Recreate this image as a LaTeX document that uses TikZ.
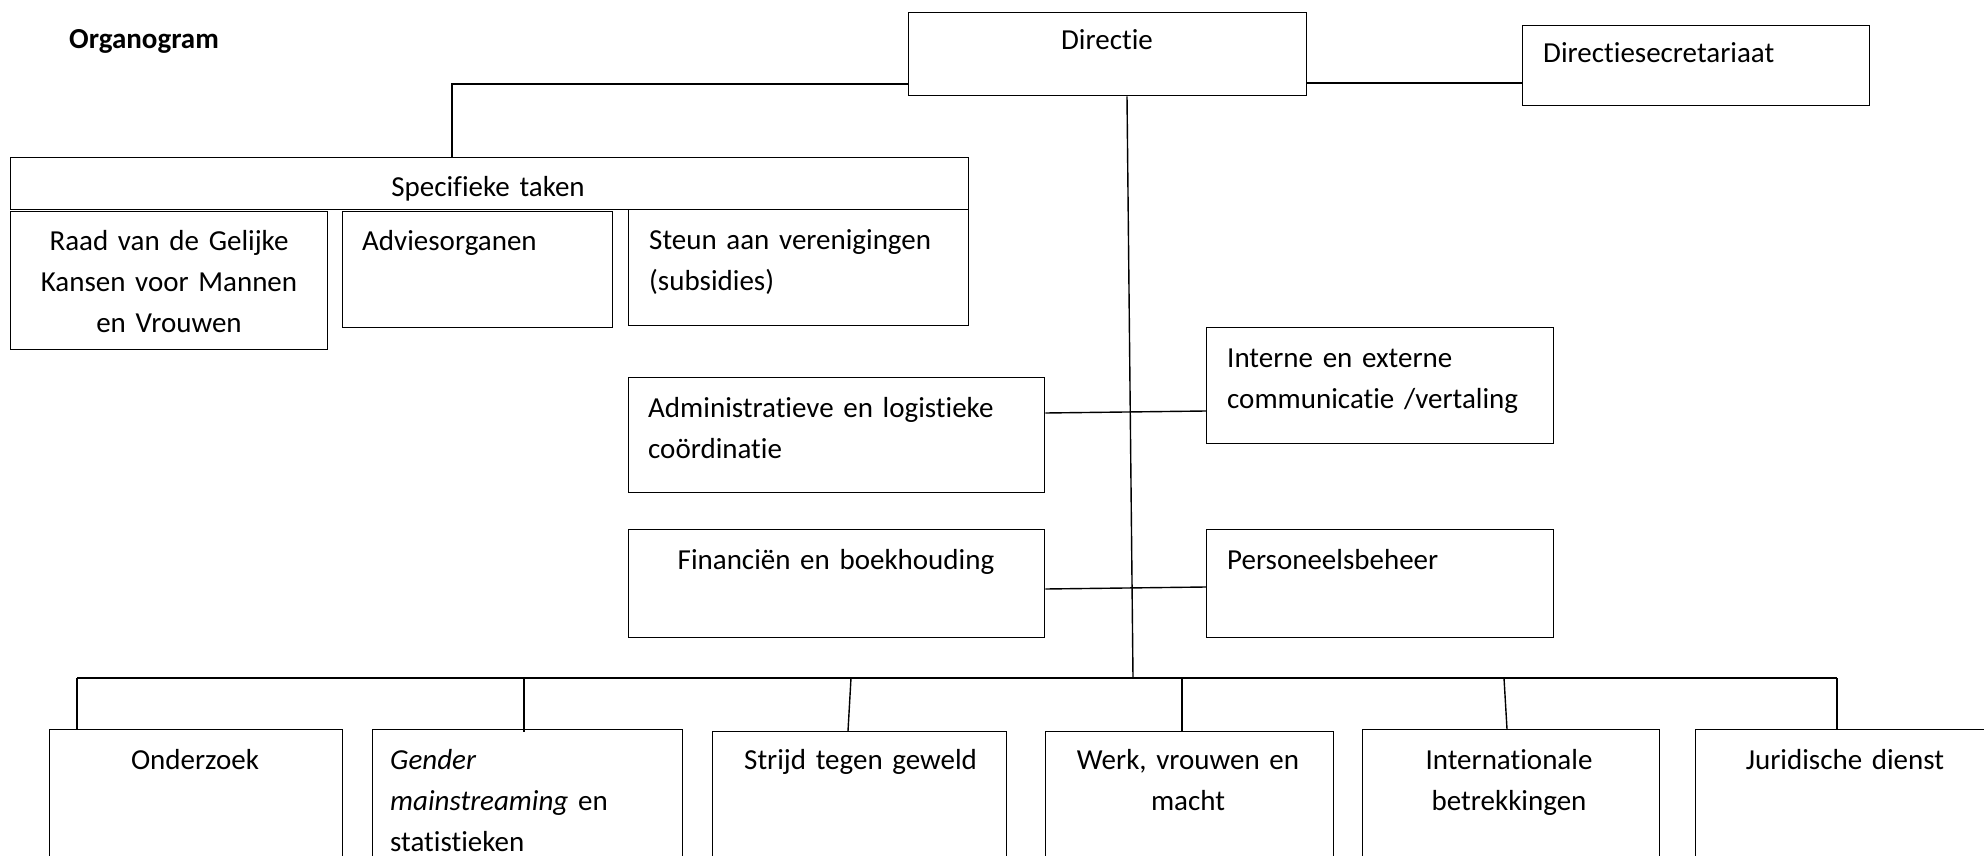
\documentclass[tikz,border=0pt]{standalone}
\usepackage{fontspec}
\setmainfont[Ligatures={NoCommon}]{Carlito}
\usetikzlibrary{calc}
\tikzset{
  box/.style={draw=black, line width=1.4pt, inner sep=0pt, anchor=north west, fill=white},
  conn/.style={draw=black, line width=1.4pt},
  thick conn/.style={draw=black, line width=2pt},
  lbl/.style={inner sep=0pt, font=\fontsize{29}{41}\selectfont},
  ctext/.style={lbl, anchor=base, align=center, text width=#1},
  ltext/.style={lbl, anchor=base west, align=left, text width=#1},
}
\begin{document}
\begin{tikzpicture}[x=1pt,y=-1pt]
\clip (0,0) rectangle (1984,856);
\fill[white] (0,0) rectangle (1984,856);

% title
\node[lbl, anchor=base west, font=\fontsize{29}{41}\selectfont\bfseries] (title) at (69,49) {Organogram};

% connector points
\coordinate (j1) at (452,84);
\coordinate (j2) at (1400,83);
\coordinate (vtop) at (1127,95);
\coordinate (vbot) at (1133,678);
\coordinate (busL) at (77,678);
\coordinate (busR) at (1837,678);
\coordinate (dgen) at (524,678);
\coordinate (dstr) at (851,678);
\coordinate (dwerk) at (1182,678);
\coordinate (dintl) at (1504,678);

% boxes
\node[box, minimum width=398, minimum height=83] (dir) at (908,12) {};
\node[box, minimum width=347, minimum height=80] (sec) at (1522,25) {};
\node[box, minimum width=958, minimum height=52] (spec) at (10,157) {};
\node[box, minimum width=317, minimum height=138] (raad) at (10,211) {};
\node[box, minimum width=270, minimum height=116] (advies) at (342,211) {};
\node[box, minimum width=340, minimum height=116] (steun) at (628,209) {};
\node[box, minimum width=416, minimum height=115] (admin) at (628,377) {};
\node[box, minimum width=347, minimum height=116] (intern) at (1206,327) {};
\node[box, minimum width=416, minimum height=108] (fin) at (628,529) {};
\node[box, minimum width=347, minimum height=108] (pers) at (1206,529) {};
\node[box, minimum width=293, minimum height=200] (ond) at (49,729) {};
\node[box, minimum width=310, minimum height=200] (gen) at (372,729) {};
\node[box, minimum width=294, minimum height=200] (str) at (712,731) {};
\node[box, minimum width=288, minimum height=200] (werk) at (1045,731) {};
\node[box, minimum width=297, minimum height=200] (intl) at (1362,729) {};
\node[box, minimum width=320, minimum height=200] (jur) at (1695,729) {};

% connectors
\draw[conn] (dir.west |- j1) -- (j1) -- (spec.north -| j1);
\draw[thick conn] (dir.east |- j2) -- (sec.west |- j2);
\draw[conn] (dir.south -| vtop) -- (vbot);
\draw[thick conn] (busL) -- (busR);
\draw[conn] ($(admin.north east)+(0,36)$) -- ($(intern.north west)+(0,84)$);
\draw[conn] ($(fin.north east)+(0,60)$) -- ($(pers.north west)+(0,58)$);
\draw[conn] (busL) -- ($(ond.north west)+(28,0)$);
\draw[conn] (dgen) -- ($(gen.north west)+(152,3)$);
\draw[conn] (dstr) -- ($(str.north west)+(136,0)$);
\draw[conn] (dwerk) -- ($(werk.north west)+(137,0)$);
\draw[conn] (dintl) -- ($(intl.north west)+(145,0)$);
\draw[conn] (busR) -- ($(jur.north west)+(142,0)$);

% texts
\node[ctext=300] (tdir) at (1107,50) {Directie};
\node[ltext=320] (tsec) at (1543,63) {Directiesecretariaat};
\node[ctext=500] (tspec) at (488,196) {Specifieke taken};
\node[ctext=300] (traad) at (169,250) {Raad van de Gelijke\\Kansen voor Mannen\\en Vrouwen};
\node[ltext=240] (tadvies) at (362,250) {Adviesorganen};
\node[ltext=310] (tsteun) at (649,249) {Steun aan verenigingen\\(subsidies)};
\node[ltext=390] (tadmin) at (648,417) {Administratieve en logistieke\\coördinatie};
\node[ltext=320] (tintern) at (1227,367) {Interne en externe\\communicatie /vertaling};
\node[ctext=400] (tfin) at (836,569) {Financiën en boekhouding};
\node[ltext=320] (tpers) at (1227,569) {Personeelsbeheer};
\node[ctext=280] (tond) at (195,769) {Onderzoek};
\node[ltext=280] (tgen) at (390,769) {\textit{Gender}\\\textit{mainstreaming} en\\statistieken};
\node[ltext=280] (tstr) at (744,769) {Strijd tegen geweld};
\node[ctext=280] (twerk) at (1188,769) {Werk, vrouwen en\\macht};
\node[ctext=280] (tintl) at (1509,769) {Internationale\\betrekkingen};
\node[ctext=280] (tjur) at (1845,769) {Juridische dienst};
\end{tikzpicture}
\end{document}
